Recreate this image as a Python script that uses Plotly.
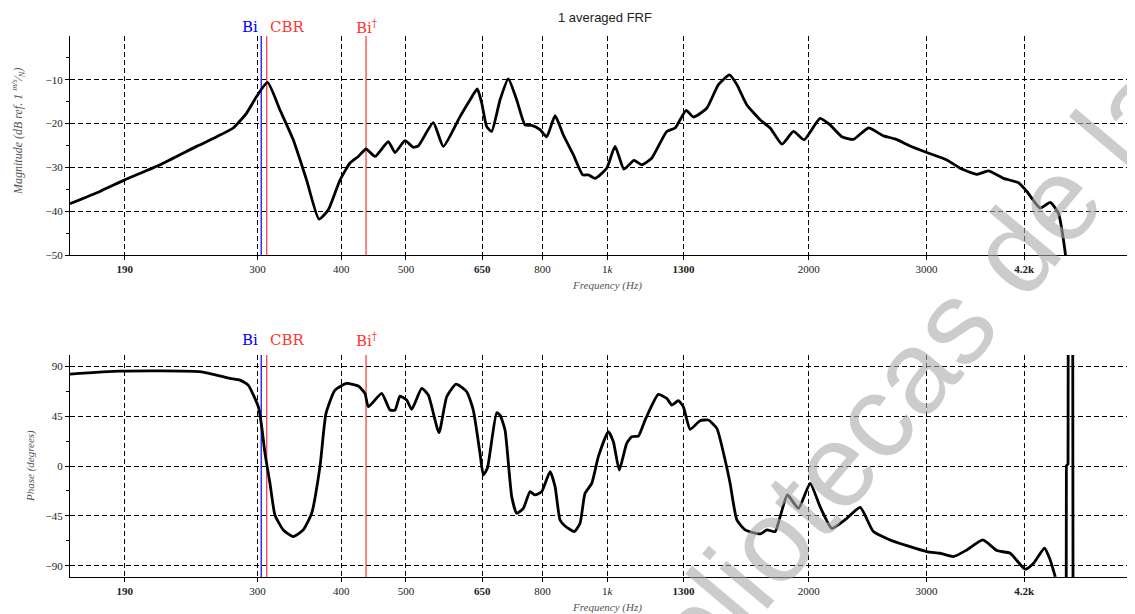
import math
import plotly.graph_objects as go

# ---------------- data ----------------
mag_freq = [157.3, 174.3, 189.6, 214.5, 243.2, 260.6, 275.9, 288.9, 299.0, 310.5, 324.1,
            339.2, 355.2, 370.6, 382.7, 398.4, 412.4, 424.4, 435.8, 449.5, 470.5,
            481.5, 498.3, 512.8, 521.7, 549.3, 568.6, 602.3, 623.3, 639.2, 649.0,
            660.2, 671.6, 691.2, 711.2, 732.1, 753.4, 770.9, 793.3, 811.8, 835.4,
            859.5, 889.6, 918.9, 936.8, 958.7, 998, 1027, 1059, 1096, 1126,
            1165, 1227, 1263, 1312, 1345, 1408, 1466, 1523, 1562, 1616,
            1692, 1752, 1824, 1898, 1969, 2080, 2153, 2242, 2333, 2457,
            2587, 2693, 2836, 3004, 3218, 3369, 3569, 3714, 3911, 4119,
            4239, 4437, 4593, 4726, 4838, 4871]
mag_db = [-38.3, -35.5, -32.9, -29.4, -25.2, -23.0, -21.0, -17.6, -13.8, -10.6, -16.9,
          -23.7, -32.9, -41.8, -39.7, -32.9, -29.0, -27.5, -25.8, -27.5, -24.1,
          -26.6, -23.9, -25.4, -25.1, -19.8, -25.2, -18.4, -14.6, -12.1, -15.3,
          -20.7, -21.8, -14.6, -9.8, -14.6, -20.3, -20.4, -21.4, -23.0, -18.2,
          -22.6, -27.1, -31.7, -31.7, -32.5, -30.2, -25.2, -30.4, -28.4, -29.4,
          -27.9, -21.8, -21.0, -17.0, -18.5, -16.5, -11.1, -8.9, -11.1, -15.7,
          -19.1, -21.0, -24.7, -21.8, -23.7, -18.8, -20.3, -23.0, -23.6, -21.0,
          -22.8, -23.5, -25.1, -26.6, -28.3, -30.2, -31.6, -30.8, -32.5, -33.5,
          -35.5, -39.3, -38.0, -40.5, -49.6, -56.0]

phase_freq = [157.3, 186.7, 246.0, 272.8, 282.3, 290.5, 297.3, 301.3, 304.3, 307.8,
              313.1, 318.5, 327.8, 339.2, 351.1, 361.4, 371.9, 379.7, 391.6, 407.7,
              424.4, 434.2, 439.3, 459.9, 473.3, 481.5, 489.8, 501.2, 510.0, 527.9,
              540.0, 560.2, 575.3, 594.1, 616.3, 630.4, 645.2, 652.6, 661.7, 683.3,
              691.2, 703.2, 719.6, 732.1, 749.0, 766.4, 779.7, 798.0, 821.1, 835.4,
              849.8, 864.6, 892.7, 910.4, 926.2, 947.9, 969.6, 1003.5, 1021, 1042,
              1069, 1088, 1113, 1139, 1192, 1227, 1249, 1277, 1299, 1330,
              1376, 1416, 1458, 1500, 1526, 1562, 1607, 1692, 1732, 1782,
              1813, 1859, 1931, 2010, 2080, 2166, 2281, 2388, 2499, 2647,
              2804, 3004, 3145, 3293, 3448, 3643, 3823, 4002, 4214, 4337,
              4504, 4593, 4673, 4760, 4852, 4856, 4884, 4888, 4962, 4966,
              4976, 4970]
phase_deg = [82.8, 85.5, 85.0, 79.0, 77.4, 72.9, 60.9, 51.9, 35.4, 11.4,
             -15.6, -44.1, -57.6, -63.6, -57.6, -42.6, -0.6, 47.4, 68.4, 74.4,
             72.0, 65.4, 53.4, 65.4, 50.4, 50.4, 63.0, 59.4, 51.0, 69.9,
             63.9, 30.0, 62.4, 73.8, 66.9, 50.4, 11.4, -8.1, -2.1, 48.0,
             45.9, 32.4, -27.6, -42.6, -38.1, -23.1, -26.1, -23.1, -5.1, -18.6,
             -48.6, -54.0, -59.1, -51.6, -24.6, -15.6, 8.4, 30.9, 21.9, -3.6,
             20.4, 26.4, 27.0, 41.4, 64.5, 60.9, 54.9, 58.8, 53.4, 33.0,
             40.8, 41.4, 33.9, 5.4, -15.6, -48.6, -57.6, -61.2, -57.6, -59.1,
             -45.6, -26.1, -38.1, -15.6, -36.6, -56.1, -47.1, -37.2, -59.1, -66.6,
             -71.7, -77.1, -78.6, -81.6, -75.6, -66.6, -76.2, -78.6, -93.0, -87.6,
             -74.1, -84.6, -99.6, -180.0, -180.0, 0.0, 2.0, 180.0, 180.0, -20.7,
             -21.0, -180.0]
PHASE_WRAP_START = 102  # index where the wrapped (out-of-range) tail begins

marker_names = ["Bi", "CBR", "Bi<sup>†</sup>"]
marker_freqs = [303.8, 309.6, 435.8]
marker_colors = ["#0000ff", "#ff3333", "#ff3333"]

tick_vals = [190, 300, 400, 500, 650, 800, 1000, 1300, 2000, 3000, 4200]
tick_text = ["<b>190</b>", "300", "400", "500", "<b>650</b>", "800", "1<i>k</i>",
             "<b>1300</b>", "2000", "3000", "<b>4.2k</b>"]
mag_ticks = [-50, -40, -30, -20, -10]
mag_minor = [-45, -35, -25, -15, -5]
phase_ticks = [-90, -45, 0, 45, 90]
phase_minor = [-67.5, -22.5, 22.5, 67.5]

X_RANGE = [157.3, 6150]
MAG_RANGE = [-50, 0]
PHASE_RANGE = [-100, 100]


def minus(v):
    return ("%g" % v).replace("-", "\u2212")


fig = go.Figure()

for name, f, c in zip(marker_names, marker_freqs, marker_colors):
    fig.add_trace(go.Scatter(x=[f, f], y=MAG_RANGE, mode="lines",
                             line=dict(color=c, width=1.2), xaxis="x", yaxis="y",
                             hoverinfo="skip", showlegend=False))
    fig.add_trace(go.Scatter(x=[f, f], y=PHASE_RANGE, mode="lines",
                             line=dict(color=c, width=1.2), xaxis="x2", yaxis="y2",
                             hoverinfo="skip", showlegend=False))

fig.add_trace(go.Scatter(x=mag_freq, y=mag_db, mode="lines",
                         line=dict(color="black", width=2.8, shape="spline", smoothing=0.5),
                         xaxis="x", yaxis="y", showlegend=False))
k = PHASE_WRAP_START
fig.add_trace(go.Scatter(x=phase_freq[:k + 1], y=phase_deg[:k + 1], mode="lines",
                         line=dict(color="black", width=2.8, shape="spline", smoothing=0.5),
                         xaxis="x2", yaxis="y2", showlegend=False))
fig.add_trace(go.Scatter(x=phase_freq[k:], y=phase_deg[k:], mode="lines",
                         line=dict(color="black", width=2.8),
                         xaxis="x2", yaxis="y2", showlegend=False))

tickfont = dict(family="Liberation Serif", size=11, color="#222222")
common_x = dict(type="log", range=[math.log10(X_RANGE[0]), math.log10(X_RANGE[1])],
                tickvals=tick_vals, ticktext=tick_text, tickfont=tickfont,
                showgrid=True, gridcolor="black", griddash="5px,3px", gridwidth=1,
                showline=True, linecolor="black", linewidth=1,
                ticks="outside", ticklen=4, tickcolor="black", zeroline=False,
                automargin=False)
common_y = dict(showgrid=True, gridcolor="black", griddash="5px,3px", gridwidth=1,
                showline=True, linecolor="black", linewidth=1, tickfont=tickfont,
                ticks="outside", ticklen=4, tickcolor="black", zeroline=False,
                automargin=False)

# the page body adds an 8px offset; the figure is sized so it ends at the window edge
OFF = 8
W, H = 1135 - OFF, 614 - OFF
ML, MR, MT = 70 - OFF, 0, 36 - OFF
MB = H - (577 - OFF)
PH = H - MT - MB
PW = W - ML - MR


def py(ywin):
    return (H - MB - (ywin - OFF)) / PH


def px(xwin):
    return (xwin - OFF - ML) / PW


fig.update_layout(
    width=W, height=H,
    margin=dict(l=ML, r=MR, t=MT, b=MB, pad=0),
    paper_bgcolor="white", plot_bgcolor="white",
    showlegend=False,
    xaxis=dict(common_x, anchor="y", domain=[0, 1]),
    yaxis=dict(common_y, anchor="x", domain=[py(255), 1], range=MAG_RANGE,
               tickvals=mag_ticks, ticktext=[minus(v) for v in mag_ticks],
               minor=dict(tickvals=mag_minor, ticks="outside", ticklen=3,
                          tickcolor="black", showgrid=False)),
    xaxis2=dict(common_x, anchor="y2", domain=[0, 1]),
    yaxis2=dict(common_y, anchor="x2", domain=[0, py(355)], range=PHASE_RANGE,
                tickvals=phase_ticks, ticktext=[minus(v) for v in phase_ticks],
                minor=dict(tickvals=phase_minor, ticks="outside", ticklen=3,
                           tickcolor="black", showgrid=False)),
)

ann = []
serif_it = dict(family="Liberation Serif", size=11, color="#555555")


def A(text, x, y, **kw):
    d = dict(text=text, xref="paper", yref="paper", x=x, y=y, showarrow=False,
             xanchor="center", yanchor="middle")
    d.update(kw)
    ann.append(d)


A("1 averaged FRF", px(605), py(17),
  font=dict(family="Liberation Sans", size=13, color="#222222"))
A("<i>Magnitude (dB ref. 1 </i><sup><i>m/s</i></sup><i>⁄</i><sub><i>N</i></sub><i>)</i>",
  px(18), py(132), textangle=-90,
  font=dict(family="Liberation Serif", size=12, color="#555555"))
A("<i>Phase (degrees)</i>", px(30), py(466), textangle=-90, font=serif_it)
A("<i>Frequency (Hz)</i>", px(607), py(285), font=serif_it)
A("<i>Frequency (Hz)</i>", px(607), py(607), font=serif_it)

anchors = ["right", "left", "center"]
shifts = [-1, 1, 0]
for name, f, c, a, s in zip(marker_names, marker_freqs, marker_colors, anchors, shifts):
    for xr, yl in (("x", py(27)), ("x2", py(340))):
        ann.append(dict(text=name, xref=xr, yref="paper", x=math.log10(f), y=yl,
                        xanchor=a, yanchor="middle", xshift=s, showarrow=False,
                        font=dict(family="DejaVu Serif", size=15, color=c)))

# watermark
A("bibliotecas de la", px(885), py(405), textangle=-50,
  font=dict(family="Liberation Sans", size=118, color="rgba(170,170,170,0.6)"))

fig.update_layout(annotations=ann)
fig.write_html("out.html")
